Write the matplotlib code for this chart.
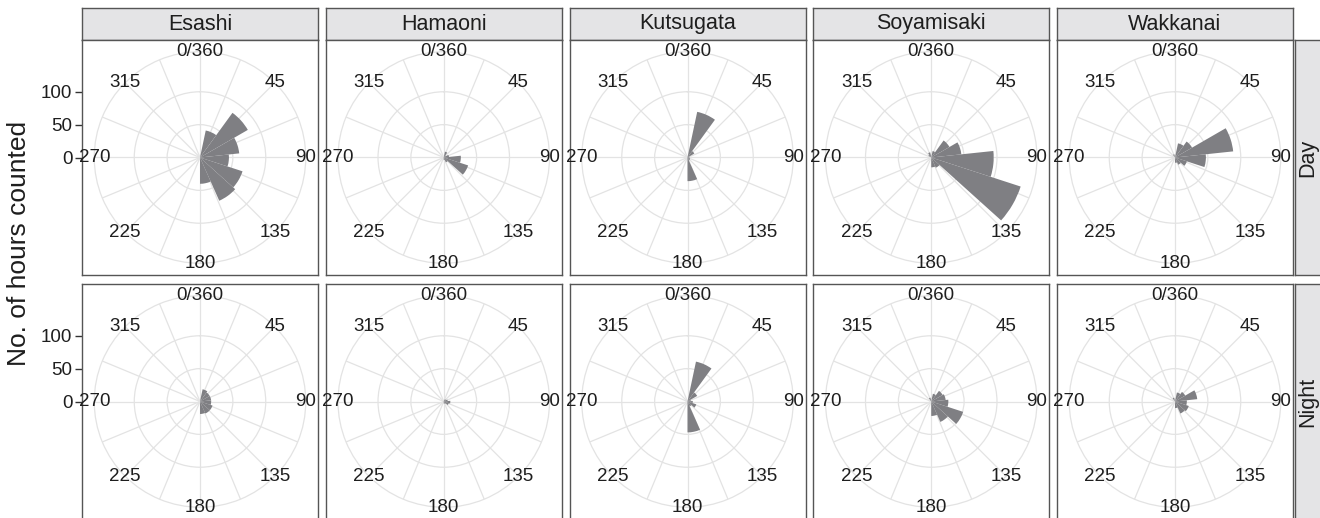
import numpy as np
import matplotlib
matplotlib.use('Agg')
import matplotlib.pyplot as plt

plt.rcParams['font.family'] = ['Liberation Sans', 'DejaVu Sans']

# 数据：风向分箱（每24度一个箱，中心为24..336）
sites = ['Esashi', 'Hamaoni', 'Kutsugata', 'Soyamisaki', 'Wakkanai']
periods = ['Day', 'Night']
bin_centers = [24, 48, 72, 96, 120, 144, 168, 192, 216, 240, 264, 288, 312, 336]

esashi_day = [42, 84, 60, 44, 68, 72, 40, 0, 0, 0, 0, 0, 0, 0]
hamaoni_day = [9, 4, 8, 26, 39, 8, 4, 0, 0, 0, 0, 0, 0, 0]
kutsugata_day = [71, 12, 3, 3, 4, 5, 36, 0, 0, 0, 0, 0, 0, 0]
soyamisaki_day = [10, 32, 46, 95, 143, 17, 15, 0, 0, 0, 0, 0, 5, 8]
wakkanai_day = [22, 30, 89, 47, 19, 12, 8, 0, 0, 0, 0, 0, 0, 5]

esashi_night = [19, 17, 17, 17, 20, 20, 19, 0, 0, 0, 0, 0, 0, 0]
hamaoni_night = [3, 4, 6, 10, 8, 4, 3, 0, 0, 0, 0, 0, 0, 0]
kutsugata_night = [62, 17, 5, 8, 14, 8, 47, 0, 0, 0, 0, 0, 0, 0]
soyamisaki_night = [12, 20, 22, 26, 51, 34, 22, 0, 0, 0, 0, 0, 0, 6]
wakkanai_night = [14, 18, 34, 18, 22, 20, 10, 0, 0, 0, 0, 0, 0, 6]

theta_grid = np.arange(0, 360, 22.5)
theta_label_deg = [0, 45, 90, 135, 180, 225, 270, 315]
theta_labels = ['0/360', '45', '90', '135', '180', '225', '270', '315']
r_ticks = [0, 50, 100]

counts = {
    ('Esashi', 'Day'): esashi_day, ('Hamaoni', 'Day'): hamaoni_day,
    ('Kutsugata', 'Day'): kutsugata_day, ('Soyamisaki', 'Day'): soyamisaki_day,
    ('Wakkanai', 'Day'): wakkanai_day,
    ('Esashi', 'Night'): esashi_night, ('Hamaoni', 'Night'): hamaoni_night,
    ('Kutsugata', 'Night'): kutsugata_night, ('Soyamisaki', 'Night'): soyamisaki_night,
    ('Wakkanai', 'Night'): wakkanai_night,
}

W, H = 1320, 518
bar_col = '#7f7f83'
grid_col = '#e3e3e3'
border_col = '#555555'
text_col = '#1e1e1e'
strip_fill = '#e4e4e6'

rmax_data = max(max(v) for v in counts.values())
R = rmax_data * 0.45 / 0.4   # ggplot: 数据最大值在0.4，外圈在0.45

fig = plt.figure(figsize=(W / 100, H / 100), dpi=100)


def rect(x0, y0, w, h):
    return [x0 / W, 1 - (y0 + h) / H, w / W, h / H]


pw, ph, gap = 236, 235, 7.75
row_top = [40, 284]
strip_top, strip_h = 8, 32

for j, site in enumerate(sites):
    x0 = 82 + j * (pw + gap)
    # 顶部分面标签
    sax = fig.add_axes(rect(x0, strip_top, pw, strip_h))
    sax.set_facecolor(strip_fill)
    sax.set_xticks([]); sax.set_yticks([])
    for s in sax.spines.values():
        s.set_color(border_col); s.set_linewidth(1.0)
    sax.text(0.5, 0.5, site, ha='center', va='center', fontsize=15.5,
             color=text_col, transform=sax.transAxes)

    for i, per in enumerate(periods):
        y0 = row_top[i]
        frame = fig.add_axes(rect(x0, y0, pw, ph))
        frame.set_xlim(0, 1)
        frame.set_ylim(-R / 0.9, R / 0.9)
        frame.set_xticks([])
        for s in frame.spines.values():
            s.set_color(border_col); s.set_linewidth(1.0)
        if j == 0:
            frame.set_yticks(r_ticks)
            frame.set_yticklabels([str(t) for t in r_ticks])
            frame.tick_params(axis='y', length=5, width=1, color='#333333',
                              labelsize=13.5, labelcolor=text_col, pad=2)
        else:
            frame.set_yticks([])

        side = 0.9 * ph
        cx, cy = x0 + pw / 2, y0 + ph / 2
        ax = fig.add_axes(rect(cx - side / 2, cy - side / 2, side, side),
                          projection='polar')
        ax.set_facecolor('none')
        ax.set_theta_zero_location('N')
        ax.set_theta_direction(-1)
        ax.set_axisbelow(True)
        ax.set_ylim(0, R)
        ax.set_yticks(r_ticks[1:])
        ax.set_yticklabels([])
        ax.set_xticks(np.deg2rad(theta_grid))
        ax.set_xticklabels([])
        ax.tick_params(length=0)
        ax.grid(True, color=grid_col, linewidth=0.9)
        ax.spines['polar'].set_color(grid_col)
        ax.spines['polar'].set_linewidth(0.9)

        ax.bar(np.deg2rad(bin_centers), counts[(site, per)], width=np.deg2rad(24),
               color=bar_col, edgecolor='none', align='center', zorder=2)

        for d, lab in zip(theta_label_deg, theta_labels):
            ax.text(np.deg2rad(d), R, lab, ha='center', va='center',
                    fontsize=13.5, color=text_col, zorder=3)

# 右侧分面标签
for i, per in enumerate(periods):
    rax = fig.add_axes(rect(1295, row_top[i], 32, ph))
    rax.set_facecolor(strip_fill)
    rax.set_xticks([]); rax.set_yticks([])
    for s in rax.spines.values():
        s.set_color(border_col); s.set_linewidth(1.0)
    rax.text(13 / 32, 0.5, per, ha='center', va='center', rotation=90,
             fontsize=15.5, color=text_col, transform=rax.transAxes)

fig.text(19 / W, 1 - 243.5 / H, 'No. of hours counted', rotation=90,
         ha='center', va='center', fontsize=19, color=text_col)

fig.savefig('out.png', dpi=100)
